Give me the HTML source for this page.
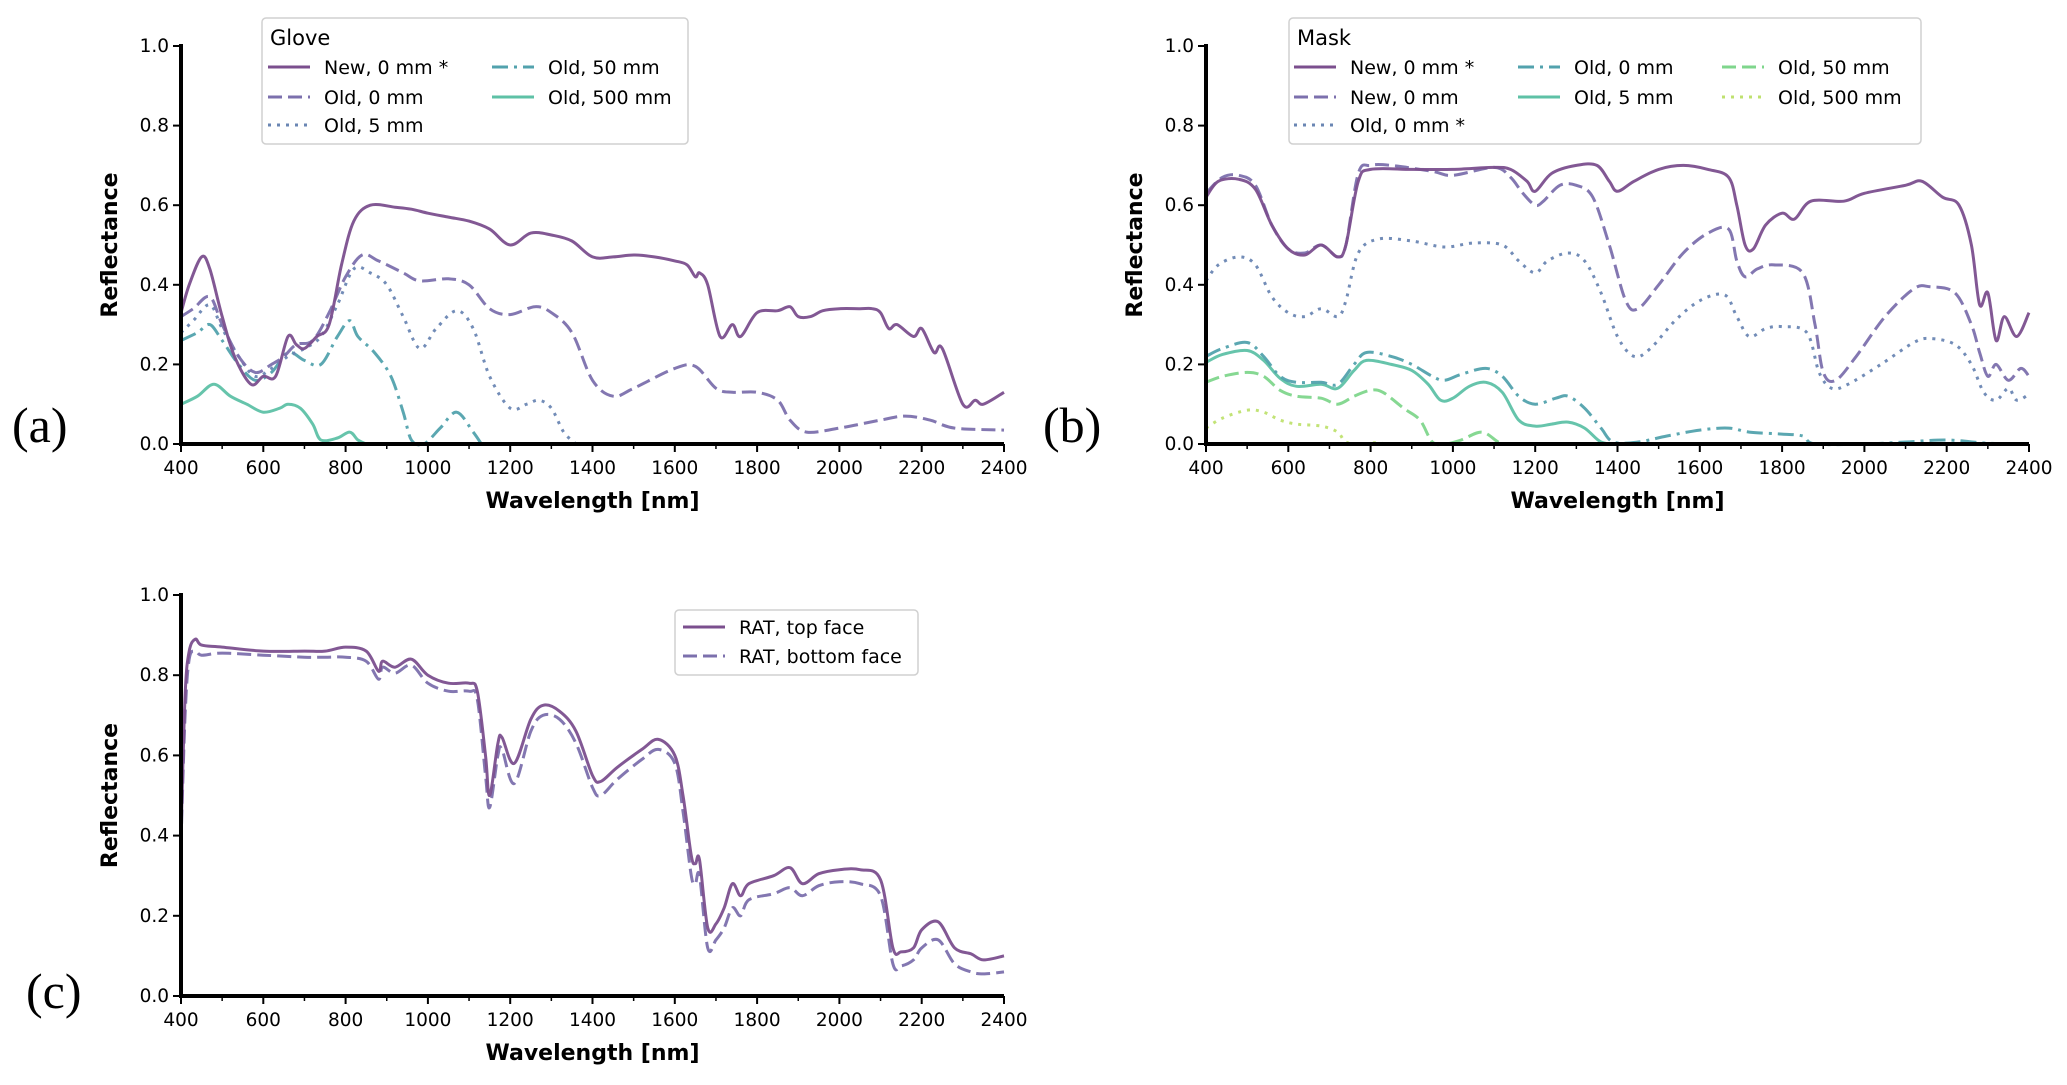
<!DOCTYPE html>
<html><head><meta charset="utf-8"><style>
html,body{margin:0;padding:0;background:#fff;}
svg{display:block;font-family:"DejaVu Sans","Liberation Sans",sans-serif;}
</style></head><body>
<svg id="fig" width="2067" height="1085" viewBox="0 0 2067 1085"></svg>
<script>
// ---- Data ----
const aNewWl=[400,420,450,470,500,530,570,600,630,660,680,700,730,760,790,820,860,920,960,1000,1050,1100,1150,1200,1250,1300,1350,1400,1450,1500,1550,1600,1630,1650,1660,1680,1710,1740,1760,1800,1850,1880,1900,1930,1960,2000,2050,2080,2100,2120,2140,2180,2200,2230,2250,2300,2330,2350,2400];
const aNewR=[0.33,0.40,0.47,0.44,0.32,0.22,0.15,0.17,0.17,0.27,0.25,0.24,0.27,0.30,0.45,0.56,0.60,0.595,0.59,0.58,0.57,0.56,0.54,0.50,0.53,0.525,0.51,0.47,0.47,0.475,0.47,0.46,0.45,0.42,0.43,0.40,0.27,0.30,0.27,0.33,0.335,0.345,0.32,0.32,0.335,0.34,0.34,0.34,0.33,0.29,0.30,0.27,0.29,0.23,0.24,0.10,0.11,0.10,0.13];
const aOld0Wl=[400,430,470,500,540,580,620,650,680,720,760,800,840,880,940,980,1050,1100,1150,1200,1260,1300,1350,1400,1450,1500,1600,1650,1700,1740,1800,1850,1880,1920,2000,2100,2160,2220,2280,2400];
const aOld0R=[0.32,0.34,0.37,0.30,0.22,0.18,0.20,0.22,0.25,0.26,0.33,0.42,0.475,0.46,0.43,0.41,0.415,0.40,0.34,0.325,0.345,0.33,0.28,0.16,0.12,0.14,0.19,0.195,0.14,0.13,0.13,0.11,0.06,0.03,0.04,0.06,0.07,0.06,0.04,0.035];
const aOld5Wl=[400,430,470,500,540,580,620,660,700,740,780,820,860,900,940,980,1020,1070,1110,1150,1200,1240,1270,1300,1330,1360];
const aOld5R=[0.28,0.31,0.35,0.29,0.22,0.17,0.19,0.22,0.24,0.27,0.35,0.44,0.43,0.40,0.32,0.24,0.29,0.335,0.29,0.17,0.09,0.10,0.11,0.09,0.03,0.0];
const aOld50Wl=[400,440,470,500,540,580,620,660,700,740,780,810,830,870,910,940,960,990,1030,1070,1110,1130];
const aOld50R=[0.26,0.28,0.30,0.26,0.20,0.16,0.18,0.23,0.21,0.20,0.27,0.31,0.27,0.23,0.17,0.08,0.01,0.0,0.04,0.08,0.03,0.0];
const aOld500Wl=[400,440,480,520,560,600,640,660,690,720,740,780,810,830,850];
const aOld500R=[0.10,0.12,0.15,0.12,0.10,0.08,0.09,0.10,0.09,0.05,0.01,0.015,0.03,0.01,0.0];

const bNewSWl=[400,430,480,520,560,600,640,680,720,740,770,800,900,1000,1100,1140,1180,1200,1240,1300,1350,1380,1400,1440,1500,1560,1620,1670,1690,1710,1730,1760,1800,1830,1870,1950,2000,2100,2140,2190,2230,2260,2280,2300,2320,2340,2370,2400];
const bNewSR=[0.62,0.66,0.665,0.64,0.55,0.49,0.475,0.50,0.47,0.50,0.66,0.69,0.69,0.69,0.695,0.69,0.66,0.635,0.68,0.70,0.70,0.66,0.635,0.66,0.69,0.70,0.69,0.67,0.60,0.50,0.49,0.55,0.58,0.565,0.61,0.61,0.63,0.65,0.66,0.62,0.60,0.50,0.35,0.38,0.26,0.32,0.27,0.33];
const bNewDWl=[400,440,480,520,560,600,640,680,720,740,770,800,850,950,1000,1100,1140,1170,1200,1220,1260,1300,1340,1380,1420,1450,1500,1560,1620,1670,1690,1710,1740,1780,1850,1880,1900,1930,1980,2050,2120,2160,2220,2260,2280,2300,2320,2350,2380,2400];
const bNewDR=[0.63,0.67,0.675,0.65,0.55,0.49,0.48,0.50,0.47,0.50,0.68,0.70,0.70,0.685,0.675,0.695,0.67,0.63,0.60,0.61,0.65,0.65,0.62,0.50,0.36,0.34,0.40,0.48,0.53,0.54,0.46,0.42,0.44,0.45,0.43,0.30,0.18,0.16,0.22,0.32,0.39,0.395,0.38,0.30,0.23,0.17,0.20,0.16,0.19,0.17];
const bOld0SWl=[400,430,480,520,560,600,640,680,720,740,770,820,900,980,1050,1120,1160,1200,1230,1280,1320,1360,1400,1440,1480,1540,1600,1660,1690,1720,1760,1800,1860,1890,1920,1960,2040,2120,2160,2220,2260,2290,2320,2350,2370,2400];
const bOld0SR=[0.41,0.45,0.47,0.45,0.37,0.33,0.32,0.34,0.32,0.36,0.48,0.515,0.51,0.495,0.505,0.50,0.46,0.43,0.46,0.48,0.46,0.38,0.27,0.22,0.24,0.31,0.36,0.375,0.32,0.27,0.29,0.295,0.28,0.18,0.14,0.15,0.20,0.255,0.265,0.25,0.20,0.13,0.11,0.14,0.11,0.125];
const bOld0Wl=[400,440,500,540,580,620,680,720,760,790,850,900,950,980,1020,1080,1120,1160,1200,1250,1280,1320,1360,1390,1450,1520,1600,1670,1720,1800,1850,1880,2000,2100,2200,2300,2400];
const bOld0R=[0.22,0.24,0.255,0.22,0.17,0.155,0.155,0.15,0.20,0.23,0.22,0.20,0.17,0.16,0.175,0.19,0.17,0.12,0.10,0.115,0.12,0.09,0.04,0.005,0.005,0.02,0.035,0.04,0.03,0.025,0.02,0.0,0.0,0.005,0.01,0.002,0.0];
const bOld5Wl=[400,440,500,540,580,620,680,720,760,790,850,900,940,970,1000,1040,1080,1120,1160,1200,1240,1280,1320,1360,1400];
const bOld5R=[0.205,0.225,0.235,0.21,0.165,0.145,0.15,0.14,0.185,0.21,0.20,0.185,0.15,0.11,0.115,0.145,0.155,0.13,0.06,0.045,0.05,0.055,0.04,0.005,0.0];
const bOld50Wl=[400,440,500,540,580,620,680,720,760,800,830,880,920,950,980,1020,1070,1110,1130];
const bOld50R=[0.155,0.17,0.18,0.17,0.135,0.12,0.115,0.10,0.12,0.135,0.13,0.09,0.06,0.005,0.0,0.01,0.03,0.005,0.0];
const bOld500Wl=[400,440,500,540,580,620,680,720,740,780,810,840];
const bOld500R=[0.04,0.065,0.085,0.08,0.06,0.05,0.045,0.03,0.005,0.0,0.003,0.0];

const cWl=[400,410,420,435,450,500,600,700,750,800,850,880,890,920,960,1000,1050,1100,1120,1140,1150,1170,1180,1210,1250,1280,1320,1360,1400,1420,1460,1520,1560,1600,1620,1640,1650,1660,1680,1700,1720,1740,1760,1780,1840,1880,1910,1950,2000,2050,2100,2130,2150,2180,2200,2240,2280,2320,2350,2400];
const cTopR=[0.40,0.75,0.86,0.89,0.875,0.87,0.86,0.86,0.86,0.87,0.86,0.81,0.835,0.82,0.84,0.80,0.78,0.78,0.76,0.60,0.50,0.63,0.645,0.58,0.69,0.725,0.71,0.66,0.55,0.535,0.57,0.615,0.64,0.60,0.50,0.35,0.33,0.34,0.17,0.18,0.22,0.28,0.25,0.28,0.30,0.32,0.28,0.305,0.315,0.315,0.29,0.12,0.11,0.12,0.165,0.185,0.12,0.105,0.09,0.10];
const cBotR=[0.38,0.70,0.84,0.86,0.85,0.855,0.85,0.845,0.845,0.845,0.835,0.79,0.82,0.805,0.825,0.78,0.76,0.76,0.74,0.55,0.47,0.60,0.615,0.53,0.66,0.70,0.69,0.63,0.52,0.50,0.54,0.59,0.615,0.58,0.46,0.30,0.28,0.30,0.12,0.14,0.17,0.22,0.20,0.24,0.255,0.27,0.25,0.275,0.285,0.28,0.25,0.08,0.075,0.09,0.12,0.14,0.08,0.06,0.055,0.06];

const yTicks=[0,0.2,0.4,0.6,0.8,1.0];
const xTicks=[400,600,800,1000,1200,1400,1600,1800,2000,2200,2400];

// ---- Helpers ----
const NS='http://www.w3.org/2000/svg';
const svg=document.getElementById('fig');
function mk(tag,attrs,parent){const e=document.createElementNS(NS,tag);for(const k in attrs)e.setAttribute(k,attrs[k]);(parent||svg).appendChild(e);return e;}
const C={purple:'#7b4f8e',lav:'#7c70ad',blue:'#6a86b3',teal:'#52a2ad',green:'#5ec1a6',lgreen:'#7fd68c',yg:'#bfe16f'};
const ST={solid:'',dash:'14,6',dot:'3,6',dashdot:'16,6,3,6'};

function panel(name,x0,x1,y0,y1){
  const g=mk('g',{});
  
  
  const sx=w=>x0+(w-400)/2000*(x1-x0);
  const sy=r=>y1-r*(y1-y0);
  xTicks.forEach(t=>{
    const l=mk('line',{x1:sx(t),x2:sx(t),y1:y1,y2:y1+8,stroke:'#000','stroke-width':2},g);
    
    
    const tx=mk('text',{x:sx(t),y:y1+30,'font-size':18.5,'text-anchor':'middle',fill:'#000'},g);
    
    
    tx.textContent=t;
    const mx=t+100;
    if(mx<2400){const m=mk('line',{x1:sx(mx),x2:sx(mx),y1:y1,y2:y1+5,stroke:'#000','stroke-width':1.5},g);
      
      }
  });
  yTicks.forEach(t=>{
    const l=mk('line',{x1:x0-8,x2:x0,y1:sy(t),y2:sy(t),stroke:'#000','stroke-width':2},g);
    
    
    const tx=mk('text',{x:x0-12,y:sy(t)+6,'font-size':18.5,'text-anchor':'end',fill:'#000'},g);
    
    
    tx.textContent=t.toFixed(1);
  });
  const xt=mk('text',{x:(x0+x1)/2,y:y1+64,'font-size':22,'font-weight':'bold','text-anchor':'middle',fill:'#000'},g);
  
  
  xt.textContent='Wavelength [nm]';
  const yc=(y0+y1)/2;
  const yt=mk('text',{x:0,y:0,'font-size':22,'font-weight':'bold','text-anchor':'middle',fill:'#000',transform:`translate(${x0-64},${yc}) rotate(-90)`},g);
  
  
  yt.textContent='Reflectance';
  return {g,sx,sy,x0,x1,y0,y1};
}
function smoothPath(pts){
  let d='M'+pts[0][0].toFixed(1)+','+pts[0][1].toFixed(1);
  for(let i=0;i<pts.length-1;i++){
    const p0=pts[i-1]||pts[i],p1=pts[i],p2=pts[i+1],p3=pts[i+2]||p2;
    const c1x=p1[0]+(p2[0]-p0[0])/6,c1y=p1[1]+(p2[1]-p0[1])/6;
    const c2x=p2[0]-(p3[0]-p1[0])/6,c2y=p2[1]-(p3[1]-p1[1])/6;
    d+=` C${c1x.toFixed(1)},${c1y.toFixed(1)} ${c2x.toFixed(1)},${c2y.toFixed(1)} ${p2[0].toFixed(1)},${p2[1].toFixed(1)}`;
  }
  return d;
}
function series(p,name,wl,r,color,style){
  const pts=wl.map((w,i)=>[p.sx(w),p.sy(r[i])]);
  const a={d:smoothPath(pts),fill:'none',stroke:color,'stroke-width':3,'stroke-linejoin':'round','stroke-opacity':0.95};
  if(ST[style])a['stroke-dasharray']=ST[style];
  const e=mk('path',a,p.g);
  
  
}
function axes(p){
  const a=mk('path',{d:`M${p.x0},${p.y0-2} L${p.x0},${p.y1} L${p.x1},${p.y1}`,fill:'none',stroke:'#000','stroke-width':4},p.g);
  
  
}
function legend(name,x,y,w,h,title,items,lineW){
  const g=mk('g',{});
  
  
  mk('rect',{x,y,width:w,height:h,rx:4,fill:'#fff','fill-opacity':0.9,stroke:'#d0d0d0','stroke-width':1.5},g);
  if(title){const t=mk('text',{x:x+8,y:y+27,'font-size':21,fill:'#000'},g);
    
    
    t.textContent=title;}
  items.forEach(it=>{
    const a={x1:it.lx,x2:it.lx+lineW,y1:it.y,y2:it.y,stroke:it.c,'stroke-width':3};
    if(ST[it.s])a['stroke-dasharray']=ST[it.s];
    const l=mk('line',a,g);
    
    
    const t=mk('text',{x:it.lx+lineW+14,y:it.y+7,'font-size':19,fill:'#000'},g);
    
    
    t.textContent=it.t;
  });
}
function label(txt,x,y){
  const t=mk('text',{x,y,'font-size':50,'font-family':'"Liberation Serif",serif',fill:'#000'});
  
  
  t.textContent=txt;
}

const pa=panel('panel-a-glove',181,1004,46,444);
series(pa,'glove-old-500mm',aOld500Wl,aOld500R,C.green,'solid');
series(pa,'glove-old-50mm',aOld50Wl,aOld50R,C.teal,'dashdot');
series(pa,'glove-old-5mm',aOld5Wl,aOld5R,C.blue,'dot');
series(pa,'glove-old-0mm',aOld0Wl,aOld0R,C.lav,'dash');
series(pa,'glove-new-0mm',aNewWl,aNewR,C.purple,'solid');
axes(pa);
legend('legend-glove',262,18,426,126,'Glove',[
 {lx:268,y:67,c:C.purple,s:'solid',t:'New, 0 mm *'},
 {lx:268,y:97,c:C.lav,s:'dash',t:'Old, 0 mm'},
 {lx:268,y:125,c:C.blue,s:'dot',t:'Old, 5 mm'},
 {lx:492,y:67,c:C.teal,s:'dashdot',t:'Old, 50 mm'},
 {lx:492,y:97,c:C.green,s:'solid',t:'Old, 500 mm'}],42);
label('(a)',12,442);

const pb=panel('panel-b-mask',1206,2029,46,444);
series(pb,'mask-old-500mm',bOld500Wl,bOld500R,C.yg,'dot');
series(pb,'mask-old-50mm',bOld50Wl,bOld50R,C.lgreen,'dash');
series(pb,'mask-old-5mm',bOld5Wl,bOld5R,C.green,'solid');
series(pb,'mask-old-0mm',bOld0Wl,bOld0R,C.teal,'dashdot');
series(pb,'mask-old-0mm-star',bOld0SWl,bOld0SR,C.blue,'dot');
series(pb,'mask-new-0mm',bNewDWl,bNewDR,C.lav,'dash');
series(pb,'mask-new-0mm-star',bNewSWl,bNewSR,C.purple,'solid');
axes(pb);
legend('legend-mask',1289,18,632,126,'Mask',[
 {lx:1294,y:67,c:C.purple,s:'solid',t:'New, 0 mm *'},
 {lx:1294,y:97,c:C.lav,s:'dash',t:'New, 0 mm'},
 {lx:1294,y:125,c:C.blue,s:'dot',t:'Old, 0 mm *'},
 {lx:1518,y:67,c:C.teal,s:'dashdot',t:'Old, 0 mm'},
 {lx:1518,y:97,c:C.green,s:'solid',t:'Old, 5 mm'},
 {lx:1722,y:67,c:C.lgreen,s:'dash',t:'Old, 50 mm'},
 {lx:1722,y:97,c:C.yg,s:'dot',t:'Old, 500 mm'}],42);
label('(b)',1043,442);

const pc=panel('panel-c-rat',181,1004,595,996);
series(pc,'rat-bottom-face',cWl,cBotR,C.lav,'dash');
series(pc,'rat-top-face',cWl,cTopR,C.purple,'solid');
axes(pc);
legend('legend-rat',675,610,243,65,null,[
 {lx:683,y:627,c:C.purple,s:'solid',t:'RAT, top face'},
 {lx:683,y:656,c:C.lav,s:'dash',t:'RAT, bottom face'}],42);
label('(c)',26,1008);
</script>
</body></html>
